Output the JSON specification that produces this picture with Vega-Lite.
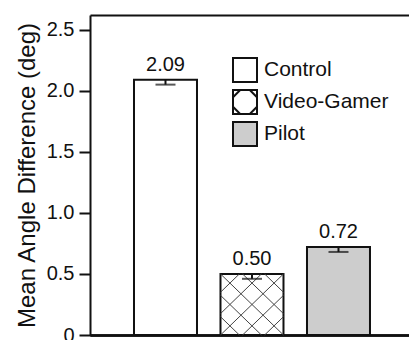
{
  "$schema": "https://vega.github.io/schema/vega-lite/v6.json",
  "width": 319,
  "height": 320,
  "autosize": "none",
  "padding": {"left": 90, "top": 15, "right": 0, "bottom": 5},
  "config": {
    "font": "Liberation Sans",
    "view": {"stroke": null},
    "axis": {"domainColor": "#111", "domainWidth": 2, "tickColor": "#111", "tickWidth": 2, "labelColor": "#111", "titleColor": "#111", "grid": false}
  },
  "data": {"values": [
    {"group": "Control", "mean": 2.09, "lower": 2.05},
    {"group": "Video-Gamer", "mean": 0.50, "lower": 0.46},
    {"group": "Pilot", "mean": 0.72, "lower": 0.68}
  ]},
  "encoding": {
    "x": {
      "field": "group", "type": "nominal",
      "sort": ["Control", "Video-Gamer", "Pilot"],
      "scale": {"paddingInner": 0.2717, "paddingOuter": 0.4798, "align": 0.53},
      "axis": {"orient": "bottom", "ticks": false, "labels": false, "title": null}
    },
    "y": {
      "field": "mean", "type": "quantitative",
      "scale": {"domain": [0, 2.62], "nice": false},
      "axis": {
        "title": "Mean Angle Difference (deg)",
        "titleFontSize": 24, "titleFontWeight": "normal", "titlePadding": 7,
        "values": [0, 0.5, 1, 1.5, 2, 2.5],
        "labelExpr": "datum.value == 0 ? '0' : format(datum.value, '.1f')",
        "labelFontSize": 20, "tickSize": 11, "labelPadding": 5
      }
    }
  },
  "layer": [
    {
      "mark": {"type": "bar", "stroke": "#111", "strokeWidth": 2},
      "encoding": {
        "fill": {
          "field": "group", "type": "nominal",
          "scale": {"domain": ["Control", "Video-Gamer", "Pilot"], "range": ["white", "white", "#cdcdcd"]},
          "legend": {
            "title": null, "orient": "none", "legendX": 142, "legendY": 42,
            "symbolSize": 576, "symbolType": "square", "symbolStrokeColor": "#111", "symbolStrokeWidth": 2,
            "labelFontSize": 21, "labelColor": "#111", "labelOffset": 6, "rowPadding": 0, "padding": 0,
            "encode": {
              "symbols": {
                "enter": {
                  "fill": {"signal": "datum.value === 'Pilot' ? '#a0a0a0' : 'white'"}
                },
                "update": {
                  "shape": {"signal": "datum.value === 'Video-Gamer' ? 'M-1,-1H1V1H-1ZM-1,-0.4L-0.4,-1M0.4,1L1,0.4M-1,0.4L-0.4,1M0.4,-1L1,-0.4' : 'square'"},
                  "fill": {"signal": "datum.value === 'Pilot' ? '#a0a0a0' : 'white'"},
                  "stroke": {"value": "#111"},
                  "strokeWidth": {"value": 2},
                  "opacity": {"value": 1}
                }
              }
            }
          }
        }
      }
    },
    {
      "transform": [{"filter": "datum.group === 'Video-Gamer'"}],
      "mark": {
        "type": "point",
        "shape": "M-1,1.94L1,0M-0.3,1.94L1,0.679M0.4,1.94L1,1.358M-1,1.261L0.3,0M-1,0.582L-0.4,0M-1,0L1,1.94M-0.3,0L1,1.261M0.4,0L1,0.582M-1,0.679L0.3,1.94M-1,1.358L-0.4,1.94",
        "size": 3969, "filled": false, "stroke": "#444", "strokeWidth": 1, "opacity": 1
      }
    },
    {
      "mark": {"type": "rule", "stroke": "#111", "strokeWidth": 2},
      "encoding": {"y2": {"field": "lower"}}
    },
    {
      "mark": {"type": "tick", "orient": "horizontal", "size": 20, "thickness": 2, "color": "#111"},
      "encoding": {"y": {"field": "lower", "type": "quantitative"}}
    },
    {
      "mark": {"type": "text", "baseline": "bottom", "dy": -5, "fontSize": 20, "color": "#111"},
      "encoding": {
        "text": {"field": "mean", "type": "quantitative", "format": ".2f"},
        "x": {
          "field": "group", "type": "nominal",
          "sort": ["Control", "Video-Gamer", "Pilot"],
          "axis": {"orient": "top", "ticks": false, "labels": false, "title": null}
        }
      }
    }
  ]
}
